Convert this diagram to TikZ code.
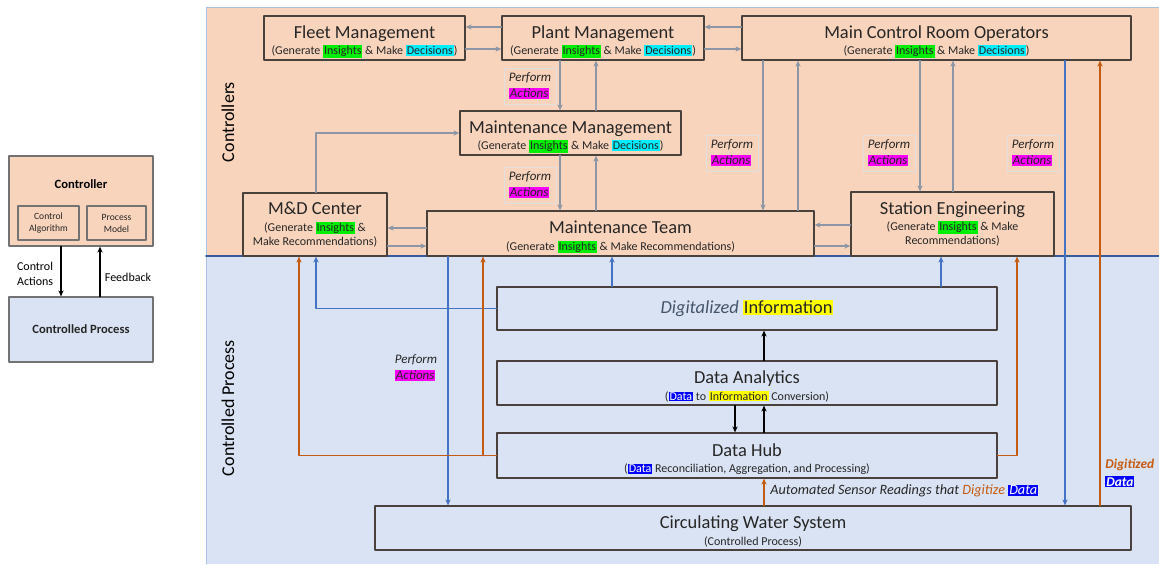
\documentclass[tikz,border=0pt]{standalone}
\usepackage{fontspec}
\setmainfont{Carlito}
\usetikzlibrary{arrows.meta}

\definecolor{peach}{RGB}{249,212,188}
\definecolor{paleblue}{RGB}{218,227,243}
\definecolor{insgreen}{RGB}{0,238,0}
\definecolor{deccyan}{RGB}{0,238,255}
\definecolor{actmag}{RGB}{255,0,255}
\definecolor{infoyel}{RGB}{255,255,0}
\definecolor{datablue}{RGB}{0,0,255}
\definecolor{flowblue}{RGB}{68,114,196}
\definecolor{floworange}{RGB}{197,90,17}
\definecolor{linkgray}{RGB}{140,150,165}
\definecolor{edgegray}{RGB}{75,65,60}
\definecolor{digblue}{RGB}{68,84,106}

\setlength{\fboxsep}{0.5pt}
\newcommand{\ttlfont}{\fontsize{9.2}{8.2}\selectfont}
\newcommand{\subfont}{\fontsize{6}{8.2}\selectfont}
\newcommand{\topstrut}{\rule{0pt}{10pt}}
\newcommand{\ins}{\colorbox{insgreen}{Insights}}
\newcommand{\dec}{\colorbox{deccyan}{Decisions}}
\newcommand{\act}{\colorbox{actmag}{\color{black!85}Actions}}
\newcommand{\info}{\colorbox{infoyel}{Information}}
\newcommand{\dat}{\colorbox{datablue}{\color{white}Data}}

\begin{document}
\begin{tikzpicture}[x=0.5pt, y=-0.5pt, line cap=round, line join=round,
    >={Stealth[length=3pt,width=2.6pt]},
    box/.style={draw=edgegray, line width=0.6pt, fill=#1, align=center, inner sep=0pt, text=black!85, font=\subfont},
    sz/.style 2 args={minimum width=#1*0.5pt, minimum height=#2*0.5pt},
    perf/.style={font=\fontsize{6.5}{8}\selectfont\itshape, align=left, inner sep=2.5pt, text=black!85},
    link/.style={->, linkgray, line width=0.6pt},
    blueflow/.style={->, flowblue, line width=0.8pt},
    orangeflow/.style={->, floworange, line width=0.8pt},
    dataflow/.style={->, black, line width=0.8pt},
    legarrow/.style={->, black, line width=1pt}]
    \useasboundingbox (0,0) rectangle (1159,564);

    % regions
    \fill[peach] (206,7) rectangle (1159,256);
    \fill[paleblue] (206,256) rectangle (1159,564);
    \draw[flowblue!45, line width=0.5pt] (206,564) -- (206,7) -- (1159,7);
    \draw[flowblue!80!black, line width=0.9pt] (206,256) -- (1159,256);
    \node[rotate=90, font=\fontsize{9}{10}\selectfont] (ctrllbl) at (228,122) {Controllers};
    \node[rotate=90, font=\fontsize{9}{10}\selectfont] (proclbl) at (228,408) {Controlled Process};

    % legend
    \node[box=peach, sz={144}{90}, draw=black!55] (ctrl) at (81,201) {};
    \node[font=\fontsize{6.3}{7}\selectfont\bfseries] (ctrlname) at (81,184) {Controller};
    \node[box=peach, sz={61}{34}, draw=black!55, font=\fontsize{4.8}{6}\selectfont] (alg) at (48.5,223) {Control\\Algorithm};
    \node[box=peach, sz={59}{34}, draw=black!55, font=\fontsize{4.8}{6}\selectfont] (pmod) at (116.5,223) {Process\\Model};
    \node[box=paleblue, sz={144}{65}, draw=black!55, font=\fontsize{6.3}{7}\selectfont\bfseries] (cproc) at (81,329.5) {Controlled Process};
    \node[font=\fontsize{6}{7.5}\selectfont, align=left, anchor=west] (calbl) at (10,274) {Control\\Actions};
    \node[font=\fontsize{6}{7.5}\selectfont] (fblbl) at (128,277) {Feedback};
    \draw[legarrow] (ctrl.south -| 61,0) -- (cproc.north -| 61,0);
    \draw[legarrow] (cproc.north -| 100,0) -- (ctrl.south -| 100,0);

    % controllers
    \node[box=peach, sz={201}{44}] (fleet) at (364.5,38) {{\ttlfont\topstrut Fleet Management}\\(Generate \ins{} \& Make \dec)};
    \node[box=peach, sz={202}{44}] (plant) at (603,38) {{\ttlfont\topstrut Plant Management}\\(Generate \ins{} \& Make \dec)};
    \node[box=peach, sz={389}{44}] (mcr) at (936.5,38) {{\ttlfont\topstrut Main Control Room Operators}\\(Generate \ins{} \& Make \dec)};
    \node[box=peach, sz={221}{44}] (mm) at (570.5,133) {{\ttlfont\topstrut Maintenance Management}\\(Generate \ins{} \& Make \dec)};
    \node[box=peach, sz={144}{63}] (mdc) at (315,224.5) {{\ttlfont M\&D Center}\\(Generate \ins{} \&\\[-1.2pt]Make Recommendations)};
    \node[box=peach, sz={387}{45}] (mt) at (620.5,233.5) {{\ttlfont\topstrut Maintenance Team}\\(Generate \ins{} \& Make Recommendations)};
    \node[box=peach, sz={203}{64}] (se) at (952.5,224) {{\ttlfont Station Engineering}\\(Generate \ins{} \& Make\\[-1.2pt]Recommendations)};

    % controlled process
    \node[box=paleblue, sz={500}{43}] (di) at (747,308.5) {\ttlfont{\itshape\color{digblue}Digitalized} \info};
    \node[box=paleblue, sz={500}{44}] (da) at (747,383) {{\ttlfont\topstrut Data Analytics}\\(\dat{} to \info{} Conversion)};
    \node[box=paleblue, sz={500}{45}] (dh) at (747,455.5) {{\ttlfont\topstrut Data Hub}\\(\dat{} Reconciliation, Aggregation, and Processing)};
    \node[box=paleblue, sz={756}{44}] (cws) at (753,528) {{\ttlfont\topstrut Circulating Water System}\\(Controlled Process)};

    % perform actions
    \foreach \n/\xx/\yy in {pa1/530/86, pa2/530/185, pa3/732/153, pa4/889/153, pa5/1033/153}
      \node[perf, draw=black!12, line width=0.3pt] (\n) at (\xx,\yy) {Perform\\\act};
    \node[perf] (pa6) at (416,368) {Perform\\\act};
    \node[font=\fontsize{6.7}{9}\selectfont\itshape\bfseries, align=left, anchor=west, inner sep=0pt] (digdata) at (1105,473) {\textcolor{floworange}{Digitized}\\\dat};
    \node[font=\fontsize{7.1}{8}\selectfont\itshape, anchor=west, text=black!85, inner sep=0pt] (sensor) at (770,491) {Automated Sensor Readings that \textcolor{floworange}{Digitize} \dat};

    % gray links between controllers
    \foreach \p/\q/\yy in {plant.west/fleet.east/27, fleet.east/plant.west/49, mcr.west/plant.east/27, plant.east/mcr.west/49,
        mt.west/mdc.east/228, mdc.east/mt.west/246, se.west/mt.east/225, mt.east/se.west/246}
      \draw[link] (\p |- 0,\yy) -- (\q |- 0,\yy);
    \foreach \p/\q/\xx in {plant.south/mm.north/560, mm.north/plant.south/596, mm.south/mt.north/560, mt.north/mm.south/596,
        mcr.south/mt.north/763, mt.north/mcr.south/798, mcr.south/se.north/920, se.north/mcr.south/953}
      \draw[link] (\p -| \xx,0) -- (\q -| \xx,0);
    \draw[link] (mdc.north -| 316,0) |- (mm.west);

    % actions and information
    \draw[blueflow] (mcr.south -| 1065,0) -- (cws.north -| 1065,0);
    \draw[blueflow] (mt.south -| 448,0) -- (cws.north -| 448,0);
    \draw[blueflow] (di.west) -| (mdc.south -| 316,0);
    \foreach \xx/\q in {612/mt, 941/se}
      \draw[blueflow] (di.north -| \xx,0) -- (\q.south -| \xx,0);

    % data
    \draw[orangeflow] (dh.west) -| (mdc.south -| 299,0);
    \draw[orangeflow] (dh.west -| 483,0) -- (mt.south -| 483,0);
    \draw[orangeflow] (dh.east) -| (se.south -| 1017,0);
    \draw[orangeflow] (cws.north -| 764,0) -- (dh.south -| 764,0);
    \draw[orangeflow] (cws.north -| 1100,0) -- (mcr.south -| 1100,0);
    \draw[dataflow] (da.north -| 764,0) -- (di.south -| 764,0);
    \draw[dataflow] (da.south -| 735,0) -- (dh.north -| 735,0);
    \draw[dataflow] (dh.north -| 764,0) -- (da.south -| 764,0);
  \end{tikzpicture}
\end{document}
